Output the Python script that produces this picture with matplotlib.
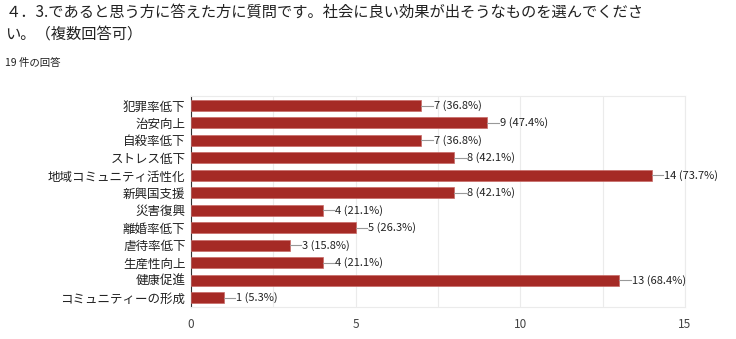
import numpy as np
import matplotlib.pyplot as plt

plt.rcParams['font.family'] = ['Noto Sans CJK JP', 'DejaVu Sans']

# Données
labels = ['犯罪率低下', '治安向上', '自殺率低下', 'ストレス低下', '地域コミュニティ活性化',
          '新興国支援', '災害復興', '離婚率低下', '虐待率低下', '生産性向上', '健康促進',
          'コミュニティーの形成']
counts = [7, 9, 7, 8, 14, 8, 4, 5, 3, 4, 13, 1]
percents = [36.8, 47.4, 36.8, 42.1, 73.7, 42.1, 21.1, 26.3, 15.8, 21.1, 68.4, 5.3]
xticks = [0, 5, 10, 15]

fig = plt.figure(figsize=(7.36, 3.39), dpi=100)
fig.text(0.007, 0.963, '４．3.であると思う方に答えた方に質問です。社会に良い効果が出そうなものを選んでくださ',
         fontsize=11, color='#212121', va='center')
fig.text(0.007, 0.900, 'い。（複数回答可）', fontsize=11, color='#212121', va='center')
fig.text(0.007, 0.815, '19 件の回答', fontsize=7.5, color='#212121', va='center')

ax = fig.add_axes([0.2595, 0.094, 0.671, 0.623])
y = np.arange(len(labels))
ax.barh(y, counts, height=0.63, color='#a52a25', edgecolor='#c86a66', linewidth=0.5, zorder=3)

for yi, c, p in zip(y, counts, percents):
    ax.plot([c, c + 0.35], [yi, yi], color='#999999', linewidth=0.8, zorder=3)
    ax.text(c + 0.38, yi, f'{c} ({p}%)', va='center', ha='left', fontsize=8, color='#222222')

ax.set_ylim(len(labels) - 0.45, -0.55)
ax.set_xlim(0, 15)
ax.set_yticks(y)
ax.set_yticklabels(labels, fontsize=9, color='#222222')
ax.set_xticks(xticks)
ax.set_xticklabels([str(t) for t in xticks], fontsize=8.5, color='#444444')
ax.set_xticks([2.5, 7.5, 12.5], minor=True)
ax.tick_params(length=0, which='both')
ax.tick_params(axis='x', pad=8)
ax.tick_params(axis='y', pad=4)
ax.grid(True, axis='x', which='both', color='#ebebeb', linewidth=0.8, zorder=0)
for s in ['top', 'right', 'bottom']:
    ax.spines[s].set_color('#ebebeb')
ax.spines['left'].set_color('#333333')
ax.spines['left'].set_linewidth(0.8)

fig.savefig('out.png', dpi=100)
